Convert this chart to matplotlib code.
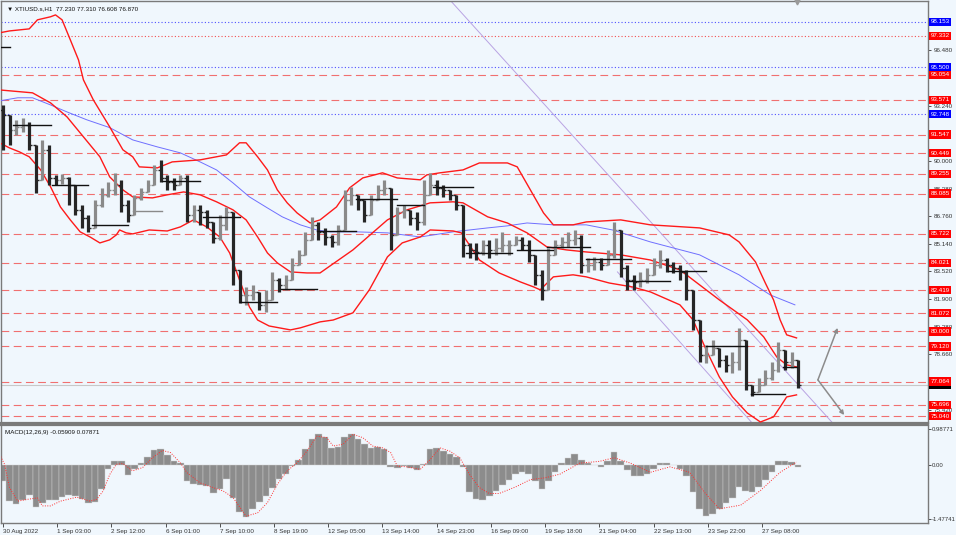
import matplotlib.pyplot as plt
from matplotlib.transforms import blended_transform_factory

plt.rcParams['font.family'] = ['Liberation Sans', 'DejaVu Sans']
BG = '#f0f7fd'
FS = 4.5

# XTIUSD.s H1, one point every 4 bars (close / high / low)
first_open = 93.0
closes = [92.70, 91.82, 91.99, 92.11, 90.94, 88.89, 90.65, 89.00, 88.89, 89.00,
          88.59, 87.13, 86.66, 86.07, 87.42, 88.01, 88.30, 88.59, 87.42, 86.83,
          87.83, 88.18, 88.59, 89.47, 89.00, 88.77, 88.59, 89.00, 86.83, 87.13,
          87.01, 86.42, 85.48, 86.25, 87.01, 83.61, 82.14, 82.14, 82.32, 81.56,
          81.85, 83.02, 82.73, 83.02, 83.90, 84.49, 85.37, 86.25, 85.84, 85.54,
          85.25, 85.95, 87.71, 88.01, 87.71, 86.83, 87.71, 88.30, 88.42, 85.66,
          87.01, 87.13, 86.66, 86.42, 88.01, 88.59, 88.42, 88.30, 88.01, 87.42,
          85.07, 84.78, 84.66, 85.07, 84.78, 84.90, 85.07, 85.07, 85.37, 85.07,
          84.49, 83.32, 82.44, 84.49, 85.07, 85.25, 85.37, 85.48, 83.90, 83.90,
          84.08, 83.90, 84.49, 85.95, 83.73, 83.02, 82.90, 83.02, 83.32, 83.90,
          84.19, 83.90, 83.73, 83.49, 82.44, 80.68, 78.62, 78.62, 79.03, 78.33,
          78.04, 78.21, 79.50, 76.86, 76.45, 76.86, 77.27, 77.74, 78.92, 78.21,
          78.33, 76.87]
highs = [93.29, 92.41, 92.41, 92.52, 92.29, 90.06, 91.23, 90.94, 89.18, 89.24,
         89.06, 88.01, 87.42, 86.83, 87.71, 88.42, 88.77, 89.30, 88.89, 87.71,
         88.01, 88.42, 88.89, 89.77, 90.06, 89.18, 89.00, 89.18, 89.18, 87.42,
         87.42, 87.13, 86.25, 86.83, 87.30, 85.84, 83.02, 82.61, 82.73, 82.14,
         82.44, 83.49, 83.14, 83.32, 84.31, 84.78, 85.84, 86.72, 86.42, 86.07,
         85.66, 86.25, 88.30, 88.48, 88.01, 87.42, 88.01, 88.59, 88.89, 87.71,
         87.30, 87.42, 87.13, 87.01, 88.89, 89.30, 88.89, 88.59, 88.30, 88.01,
         87.42, 85.19, 85.19, 85.37, 85.37, 85.48, 85.84, 85.37, 85.60, 85.54,
         85.37, 84.49, 83.61, 84.90, 85.37, 85.54, 85.84, 85.95, 85.66, 84.31,
         84.37, 84.31, 84.78, 86.42, 85.37, 83.90, 83.32, 83.49, 83.73, 84.31,
         84.78, 84.31, 84.08, 83.90, 83.61, 82.14, 80.68, 79.21, 79.50, 78.92,
         78.62, 78.80, 80.21, 79.21, 76.86, 77.27, 77.74, 78.21, 79.39, 78.74,
         78.80, 78.21]
lows = [90.65, 90.94, 91.53, 91.70, 90.65, 88.12, 89.18, 88.59, 88.59, 88.65,
        87.42, 86.83, 86.07, 85.84, 86.07, 87.30, 87.89, 88.01, 87.01, 86.42,
        87.01, 87.71, 88.18, 88.59, 88.77, 88.30, 88.30, 88.59, 86.42, 86.42,
        86.25, 86.07, 85.19, 85.37, 85.95, 82.73, 81.67, 81.56, 81.85, 81.26,
        81.14, 82.14, 82.32, 82.44, 83.32, 83.90, 84.49, 85.37, 85.37, 85.07,
        84.96, 85.07, 86.83, 87.42, 87.13, 86.42, 86.83, 87.71, 88.01, 84.78,
        86.07, 86.66, 86.25, 85.95, 86.25, 88.01, 88.01, 87.89, 87.71, 87.13,
        84.37, 84.31, 84.19, 84.49, 84.31, 84.49, 84.66, 84.49, 85.07, 84.78,
        84.08, 82.73, 81.85, 83.32, 84.49, 84.90, 84.96, 85.07, 83.43, 83.49,
        83.61, 83.61, 83.90, 84.31, 83.20, 82.44, 82.44, 82.61, 82.85, 83.32,
        83.73, 83.49, 83.43, 83.02, 81.85, 80.09, 78.21, 78.15, 78.62, 77.92,
        77.63, 77.57, 77.74, 76.57, 76.22, 76.57, 76.86, 77.16, 77.63, 77.74,
        77.86, 76.69]

# MACD(12,26,9) histogram, same sampling
macd_hist = [-0.45, -0.99, -1.06, -0.95, -0.83, -1.15, -1.05, -0.95, -0.96, -0.88,
             -0.81, -0.86, -0.93, -1.05, -1.02, -0.65, -0.12, 0.11, 0.10, -0.27,
             -0.10, 0.06, 0.22, 0.42, 0.44, 0.28, 0.12, 0.05, -0.44, -0.52,
             -0.55, -0.58, -0.76, -0.67, -0.38, -0.89, -1.30, -1.42, -1.20, -1.02,
             -0.85, -0.62, -0.38, -0.24, -0.02, 0.15, 0.45, 0.72, 0.86, 0.78,
             0.47, 0.50, 0.78, 0.86, 0.72, 0.58, 0.47, 0.48, 0.45, -0.05,
             -0.08, -0.03, -0.07, -0.14, 0.02, 0.45, 0.47, 0.39, 0.30, 0.23,
             -0.05, -0.75, -0.94, -0.95, -0.85, -0.70, -0.55, -0.40, -0.25, -0.20,
             -0.25, -0.45, -0.65, -0.45, -0.20, 0.05, 0.20, 0.30, 0.15, 0.05,
             0.0, -0.05, 0.10, 0.35, 0.10, -0.15, -0.30, -0.30, -0.25, -0.10,
             0.05, 0.05, 0.0, -0.10, -0.30, -0.75, -1.20, -1.40, -1.35, -1.20,
             -1.05, -0.90, -0.60, -0.70, -0.75, -0.60, -0.40, -0.20, 0.10, 0.10,
             0.08, -0.06]

# signal line (bar index, value)
sig_x = [-2, 1, 4, 9, 15, 21, 24, 29, 35, 45, 53, 57, 61, 65, 69, 73, 79, 85, 91, 97,
         102, 108, 112, 120, 128, 134, 140, 148, 155, 161, 167, 173, 179, 185, 191, 197,
         201, 207, 213, 219, 225, 231, 236, 240, 246, 254, 260, 266, 272, 278, 284, 290,
         296, 302, 312, 321, 330, 339, 351, 363, 372, 382, 394, 406, 418, 427, 436, 449,
         461, 473, 483]
sig_v = [0.29, 0.02, -0.62, -0.99, -0.94, -0.90, -1.12, -1.12, -0.99, -0.88, -0.99, -0.94,
         -0.71, -0.26, 0.02, 0.04, -0.16, -0.07, 0.20, 0.40, 0.34, 0.06, -0.21, -0.49,
         -0.62, -0.71, -0.89, -1.40, -1.31, -1.03, -0.53, -0.16, 0.06, 0.38, 0.79, 0.75,
         0.52, 0.57, 0.84, 0.75, 0.52, 0.47, 0.34, -0.03, -0.05, -0.12, 0.15, 0.47, 0.38,
         0.20, -0.26, -0.62, -0.78, -0.78, -0.60, -0.40, -0.35, -0.25, 0.05, 0.10, 0.20,
         0.05, -0.20, -0.05, -0.20, -0.75, -1.20, -1.10, -0.70, -0.20, 0.08]

# Bollinger bands and moving average (bar index, price)
upper_x = [-2, 4, 16, 21, 29, 32, 36, 41, 46, 49, 55, 65, 73, 79, 83, 94, 103, 120, 136, 144,
           148, 155, 161, 167, 173, 179, 187, 193, 203, 211, 219, 231, 240, 254, 258, 266,
           280, 290, 307, 313, 321, 329, 335, 347, 355, 376, 394, 424, 442, 448, 458, 464,
           469, 473, 477, 483]
upper_p = [97.51, 97.62, 97.74, 98.27, 98.45, 98.56, 98.27, 97.10, 95.92, 94.75, 93.58,
           91.99, 90.65, 90.24, 89.65, 89.59, 89.94, 90.06, 90.35, 91.06, 91.06, 90.24,
           89.47, 88.30, 87.54, 86.95, 86.36, 86.54, 87.30, 88.42, 89.00, 89.30, 89.00,
           88.89, 89.18, 89.30, 89.47, 89.88, 89.88, 89.65, 88.30, 86.95, 86.25, 86.25,
           86.42, 86.54, 86.25, 86.07, 85.66, 85.25, 84.08, 82.84, 81.85, 80.68, 79.80, 79.62]
mid_x = [-2, 18, 29, 39, 49, 59, 65, 73, 79, 91, 100, 110, 120, 130, 140, 148, 155, 161, 167,
         175, 185, 193, 213, 234, 246, 260, 274, 280, 295, 307, 319, 331, 343, 355, 376, 394,
         412, 424, 436, 453, 463, 471, 477, 483]
mid_p = [94.16, 93.99, 93.40, 92.58, 91.41, 90.24, 89.06, 88.30, 87.89, 87.83, 88.01, 88.18,
         88.01, 87.60, 87.13, 86.54, 85.54, 84.60, 84.02, 83.49, 83.43, 83.43, 84.78, 86.54,
         87.13, 87.54, 87.60, 87.54, 86.72, 86.36, 85.78, 84.96, 84.78, 84.66, 84.49, 84.19,
         83.61, 82.73, 81.85, 80.68, 79.68, 78.50, 78.04, 77.92]
lower_x = [-2, 4, 10, 16, 23, 29, 35, 41, 47, 53, 59, 65, 69, 71, 75, 79, 89, 100, 108, 116,
           124, 132, 138, 144, 150, 155, 162, 175, 181, 193, 201, 213, 223, 234, 243, 254,
           260, 274, 279, 290, 302, 315, 323, 327, 335, 347, 355, 369, 383, 394, 412, 420,
           428, 436, 444, 453, 461, 469, 473, 477, 483]
lower_p = [91.06, 90.76, 90.53, 90.24, 89.47, 88.48, 87.30, 86.54, 85.84, 85.54, 85.19,
           85.37, 85.66, 85.95, 85.78, 85.72, 85.95, 85.89, 86.13, 86.54, 86.13, 85.54,
           84.60, 83.02, 81.44, 80.67, 80.32, 80.09, 80.21, 80.56, 80.67, 81.09, 82.44,
           84.37, 85.19, 85.54, 85.95, 85.89, 85.78, 84.19, 83.43, 82.90, 82.61, 82.44,
           83.20, 83.32, 83.20, 82.84, 82.61, 82.32, 81.56, 80.68, 78.92, 77.33, 76.16,
           75.22, 74.69, 74.99, 75.57, 76.16, 76.28]
ma_x = [-2, 9, 18, 29, 39, 51, 65, 79, 94, 108, 120, 130, 140, 150, 161, 170, 181, 191, 199,
        215, 234, 254, 274, 295, 307, 319, 335, 355, 371, 394, 424, 448, 467, 482]
ma_p = [93.52, 93.70, 93.70, 93.28, 92.87, 92.41, 91.95, 91.23, 90.82, 90.47, 89.94, 89.47,
        88.71, 87.89, 87.24, 86.72, 86.25, 85.95, 85.84, 85.84, 85.78, 85.54, 85.84, 86.07,
        86.19, 86.36, 86.25, 86.25, 85.95, 85.25, 84.49, 83.32, 82.14, 81.56]

# horizontal levels
red_dashed = [95.054, 93.571, 91.547, 90.449, 89.255, 88.085, 85.722, 84.021,
              82.419, 81.072, 80.000, 79.120, 77.064, 75.696, 75.040]
red_dotted = [97.332]
blue_dotted = [98.153, 95.500, 92.748]
last_price = 76.870

# short black level segments (start bar, end bar, price)
seg_x0 = [-2, 6, 30, 54, 97, 122, 144, 169, 191, 215, 240, 262, 282, 313, 331, 355, 379, 405, 428, 455, 475]
seg_x1 = [4, 29, 52, 76, 120, 144, 167, 191, 215, 240, 256, 286, 310, 335, 357, 382, 406, 428, 453, 476, 483]
seg_p = [96.69, 92.11, 88.59, 86.25, 88.83, 86.72, 81.73, 82.49, 85.87, 87.77, 87.42, 88.48,
         84.60, 84.78, 84.96, 84.25, 82.96, 83.55, 79.15, 76.34, 77.92]

tick_idx = [0, 33, 66, 99, 132, 165, 198, 231, 264, 297, 330, 363, 396, 429, 462]
tick_lbl = ['30 Aug 2022', '1 Sep 03:00', '2 Sep 12:00', '6 Sep 01:00', '7 Sep 10:00',
            '8 Sep 19:00', '12 Sep 05:00', '13 Sep 14:00', '14 Sep 23:00', '16 Sep 09:00',
            '19 Sep 18:00', '21 Sep 04:00', '22 Sep 13:00', '23 Sep 22:00', '27 Sep 08:00']
price_ticks = [75.42, 78.66, 80.28, 81.90, 83.52, 85.14, 86.76, 88.38, 90.00,
               93.24, 96.48]

fig = plt.figure(figsize=(9.56, 5.35), dpi=100)
fig.patch.set_facecolor(BG)
ax = fig.add_axes([0.001, 0.2093, 0.9697, 0.789])
axm = fig.add_axes([0.001, 0.0224, 0.9697, 0.1832])
for a in (ax, axm):
    a.set_facecolor(BG)
    a.set_xlim(-1.2, 563)
    for s in a.spines.values():
        s.set_color('#7a7a7a')
        s.set_linewidth(1.0)
ax.spines['bottom'].set_linewidth(1.6)
axm.spines['top'].set_linewidth(1.6)
ax.set_ylim(74.63, 99.38)
axm.set_ylim(-1.589, 1.096)

# levels
for lv in red_dashed:
    ax.axhline(lv, color='#f07070', lw=0.8, ls=(0, (7, 4)), zorder=1)
for lv in red_dotted:
    ax.axhline(lv, color='#f05050', lw=0.8, ls=(0, (1, 2)), zorder=1)
for lv in blue_dotted:
    ax.axhline(lv, color='#5050ff', lw=0.8, ls=(0, (1, 2)), zorder=1)
ax.axhline(last_price, color='#c8c8c8', lw=0.8, zorder=1)

# trend channel
ax.plot([272, 505], [99.44, 74.63], color='#b9a3e3', lw=0.7, zorder=1)
ax.plot([374, 456], [83.49, 74.63], color='#b9a3e3', lw=0.7, zorder=1)

# bands
ax.plot(ma_x, ma_p, color='#6f6fff', lw=0.7, zorder=3)
for bx, bp in ((upper_x, upper_p), (mid_x, mid_p), (lower_x, lower_p)):
    ax.plot(bx, bp, color='#ff1a1a', lw=1.0, zorder=3)

# OHLC bars
xs = [4 * k for k in range(len(closes))]
opens = [first_open] + closes[:-1]
for x, o, h, l, c in zip(xs, opens, highs, lows, closes):
    col = '#8a8a8a' if c >= o else '#262626'
    ax.vlines(x, min(l, o, c), max(h, o, c), color=col, lw=2.3, zorder=4)
    ax.hlines(o, x - 1.8, x, color=col, lw=1.0, zorder=4)
    ax.hlines(c, x, x + 1.8, color=col, lw=1.0, zorder=4)

for x0, x1, p in zip(seg_x0, seg_x1, seg_p):
    ax.plot([x0, x1], [p, p], color='#111111', lw=1.0, zorder=5)
ax.plot([79, 97], [87.07, 87.07], color='#8a8a8a', lw=1.0, zorder=5)

# projection arrows
for tx, ty in ((508, 80.21), (512, 75.10)):
    ax.annotate('', xy=(tx, ty), xytext=(496, 77.16),
                arrowprops=dict(arrowstyle='-|>', color='#8c8c8c', lw=1.1,
                                mutation_scale=6, shrinkA=0, shrinkB=0), zorder=6)

ax.plot(483, 99.3, marker='v', color='#9a9a9a', ms=3.5, clip_on=False, zorder=6)

# right price axis
ax.yaxis.tick_right()
ax.set_yticks(price_ticks)
ax.set_yticklabels(['%.3f' % t for t in price_ticks])
ax.tick_params(axis='y', labelsize=FS, colors='#333333', length=2.5, width=0.6, pad=1.5)
ax.tick_params(axis='x', bottom=False, labelbottom=False)

tr = blended_transform_factory(ax.transAxes, ax.transData)


def tag(price, color, z=10):
    ax.text(1.0025, price, '%.3f' % price, transform=tr, fontsize=FS, color='white',
            va='center', ha='left', clip_on=False, zorder=z,
            bbox=dict(boxstyle='square,pad=0.25', fc=color, ec='none'))


tag(last_price, '#000000', z=9)
for lv in red_dashed + red_dotted:
    tag(lv, '#ff0000')
for lv in blue_dotted:
    tag(lv, '#0000ff')

ax.text(0.006, 0.988, '\u25bc XTIUSD.s,H1  77.230 77.310 76.608 76.870', transform=ax.transAxes,
        fontsize=FS, va='top', ha='left', color='#111111')

# MACD panel
axm.bar(xs, macd_hist, width=4, color='#8c8c8c', edgecolor='#d0d0d0', linewidth=0.3, zorder=2)
axm.plot(sig_x, sig_v, color='#ff3030', lw=0.7, ls=(0, (1, 1.5)), zorder=3)
axm.yaxis.tick_right()
axm.set_yticks([0.98771, 0.0, -1.47741])
axm.set_yticklabels(['0.98771', '0.00', '-1.47741'])
axm.tick_params(axis='y', labelsize=4.3, colors='#333333', length=2, width=0.6, pad=1)
axm.set_xticks(tick_idx)
axm.set_xticklabels(tick_lbl)
axm.tick_params(axis='x', labelsize=FS, colors='#333333', length=3, width=0.6, pad=1.5)
for lbl in axm.get_xticklabels():
    lbl.set_ha('left')
axm.text(0.004, 0.95, 'MACD(12,26,9) -0.05909 0.07871', transform=axm.transAxes,
         fontsize=FS, va='top', ha='left', color='#111111')

fig.savefig('out.png', dpi=100, facecolor=BG)
